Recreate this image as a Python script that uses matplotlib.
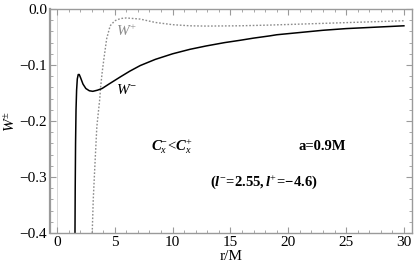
import matplotlib
matplotlib.use("Agg")
import matplotlib.pyplot as plt
from matplotlib.ticker import MultipleLocator

plt.rcParams['font.family'] = ['Liberation Serif', 'DejaVu Serif']
plt.rcParams['mathtext.fontset'] = 'custom'
plt.rcParams['mathtext.rm'] = 'Liberation Serif'
plt.rcParams['mathtext.it'] = 'Liberation Serif:italic'
plt.rcParams['mathtext.bf'] = 'Liberation Serif:bold'
plt.rcParams['mathtext.bfit'] = 'Liberation Serif:bold:italic'

# W^- (solid black)
r_minus = [1.56, 1.58, 1.61, 1.65, 1.70, 1.76, 1.84, 1.93, 2.05, 2.25, 2.5, 2.8,
           3.1, 3.5, 3.9, 4.5, 5.5, 6.3, 7.2, 8.5, 10.0, 11.5, 12.9, 14.5,
           15.8, 17.0, 18.4, 19.0, 21.0, 23.0, 25.0, 27.0, 30.0]
w_minus = [-0.40, -0.32, -0.24, -0.18, -0.145, -0.125, -0.117, -0.117, -0.123,
           -0.134, -0.142, -0.146, -0.147, -0.145, -0.142, -0.134, -0.121,
           -0.111, -0.101, -0.090, -0.080, -0.072, -0.066, -0.060, -0.056,
           -0.052, -0.048, -0.046, -0.042, -0.038, -0.035, -0.033, -0.030]

# W^+ (gray dotted)
r_plus = [3.05, 3.14, 3.28, 3.45, 3.7, 3.77, 3.9, 4.06, 4.3, 4.6, 5.0, 5.5,
          6.0, 6.6, 7.2, 8.5, 10.0, 11.5, 12.9, 15.8, 18.4, 21.0, 24.0, 27.0, 30.0]
w_plus = [-0.40, -0.34, -0.28, -0.21, -0.161, -0.141, -0.115, -0.089, -0.053,
          -0.030, -0.021, -0.017, -0.016, -0.017, -0.018, -0.024, -0.028,
          -0.030, -0.0305, -0.030, -0.0287, -0.027, -0.025, -0.023, -0.021]

x_ticks = [0, 5, 10, 15, 20, 25, 30]
y_ticks = [0.0, -0.1, -0.2, -0.3, -0.4]
y_tick_labels = ['0.0', '\u22120.1', '\u22120.2', '\u22120.3', '\u22120.4']

fig = plt.figure(figsize=(4.15, 2.73), dpi=100)
ax = fig.add_axes([50/415, 1-233/273, (412-50)/415, (233-9)/273])

frame_col = '#9a9a9a'
ax.axvline(0, color='#d8d8d8', lw=0.7, zorder=0)

ax.plot(r_plus, w_plus, color='#8c8c8c', lw=1.0, linestyle=(0, (1.2, 1.3)))
ax.plot(r_minus, w_minus, color='black', lw=1.1)

ax.set_xlim(-0.6, 30.7)
ax.set_ylim(-0.4, 0.0)
ax.set_xticks(x_ticks)
ax.set_yticks(y_ticks)
ax.set_yticklabels(y_tick_labels)
ax.xaxis.set_minor_locator(MultipleLocator(1))
ax.yaxis.set_minor_locator(MultipleLocator(0.02))
ax.tick_params(which='both', direction='in', top=True, right=True,
               color=frame_col, labelsize=11, labelcolor='black', pad=2)
ax.tick_params(which='major', length=4, width=0.8)
ax.tick_params(which='minor', length=2, width=0.6)
for s in ax.spines.values():
    s.set_color(frame_col)
    s.set_linewidth(1.0)
ax.spines['left'].set_linewidth(1.6)

ax.set_xlabel('r/M', fontsize=11, labelpad=1)
ax.set_ylabel(r'$W^{\pm}$', fontsize=11, labelpad=1)

ax.text(6.0, -0.040, r'$W^{+}$', color='#8c8c8c', fontsize=11, ha='center', va='center')
ax.text(6.0, -0.145, r'$W^{-}$', color='black', fontsize=11, ha='center', va='center')
ax.text(9.95, -0.245, r'$\mathbfit{C}_{\mathit{x}}^{-}\!<\!\mathbfit{C}_{\mathit{x}}^{+}$',
        fontsize=10.5, ha='center', va='center')
ax.text(22.9, -0.245, 'a=0.9M', fontsize=10.5, fontweight='bold', ha='center', va='center')
ax.text(17.9, -0.309,
        r'$\mathbf{(}\mathbfit{l}^{-}\!\mathbf{=}\!\mathbf{2.55,}\mathbfit{l}^{+}\!\mathbf{=}\!\mathbf{{-}4.6)}$',
        fontsize=10.5, ha='center', va='center')

fig.savefig('out.png', dpi=100)
